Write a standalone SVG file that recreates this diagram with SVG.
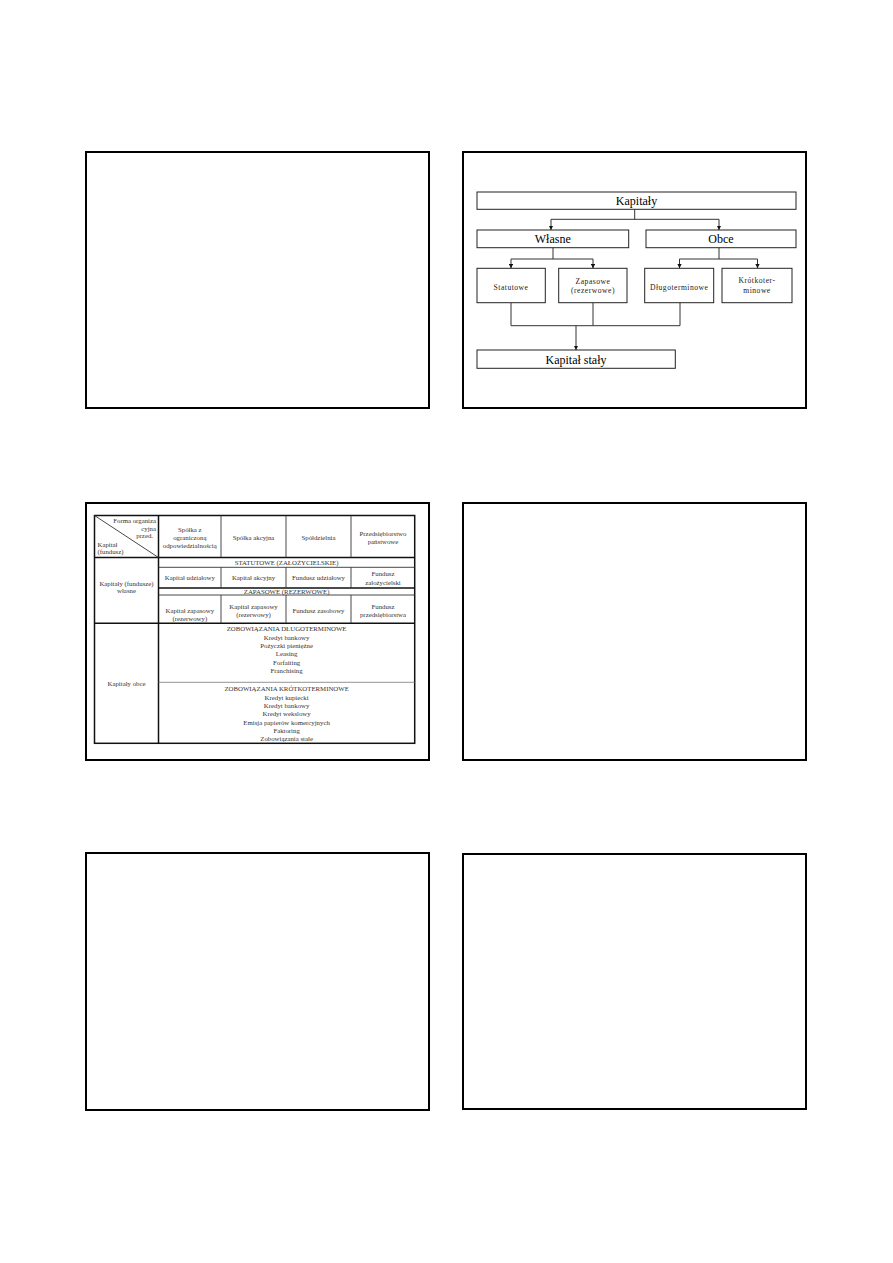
<svg xmlns="http://www.w3.org/2000/svg" width="893" height="1263" viewBox="0 0 893 1263">
<style>
.slide{fill:#fff;stroke:#000;stroke-width:2}
.box{fill:#fff;stroke:#222;stroke-width:1}
.ln{fill:none;stroke:#333;stroke-width:1}
.big{font-family:"Liberation Serif","Times New Roman",serif;font-size:12px;fill:#000;text-anchor:middle}
.sm{font-family:"Liberation Serif","Times New Roman",serif;font-size:7.6px;fill:#222;text-anchor:middle;letter-spacing:0.5px}
.t{font-family:"Liberation Serif","Times New Roman",serif;font-size:6.8px;fill:#333;text-anchor:middle}
.tk{fill:none;stroke:#111;stroke-width:1.5}
.tn{fill:none;stroke:#333;stroke-width:0.9}
.tg{fill:none;stroke:#777;stroke-width:0.8}
</style>
<defs>
<marker id="arr" viewBox="0 0 8 8" refX="8" refY="4" markerWidth="4.5" markerHeight="4.5" orient="auto" markerUnits="userSpaceOnUse">
<path d="M0,0 L8,4 L0,8 Z" fill="#111"/>
</marker>
</defs>
<rect width="893" height="1263" fill="#fff"/>
<g id="slides">
<rect id="slide1" class="slide" x="86" y="152" width="343" height="256"/>
<rect id="slide2" class="slide" x="463" y="152" width="343" height="256"/>
<rect id="slide3" class="slide" x="86" y="503" width="343" height="257"/>
<rect id="slide4" class="slide" x="463" y="503" width="343" height="257"/>
<rect id="slide5" class="slide" x="86" y="853" width="343" height="257"/>
<rect id="slide6" class="slide" x="463" y="854" width="343" height="255"/>
</g>
<g id="connectors">
<path class="ln" d="M634.7,209.3 V219.3 M551,219.3 H719"/>
<path class="ln" d="M551,219.3 V230" marker-end="url(#arr)"/>
<path class="ln" d="M719,219.3 V230" marker-end="url(#arr)"/>
<path class="ln" d="M553,247.7 V259 M511,259 H593 M719,247.7 V259 M679.5,259 H757.5"/>
<path class="ln" d="M511,259 V268.3" marker-end="url(#arr)"/>
<path class="ln" d="M593,259 V268.3" marker-end="url(#arr)"/>
<path class="ln" d="M679.5,259 V268.3" marker-end="url(#arr)"/>
<path class="ln" d="M757.5,259 V268.3" marker-end="url(#arr)"/>
<path class="ln" d="M511,302.7 V325.7 M593,302.7 V325.7 M680,302.7 V325.7 M511,325.7 H680"/>
<path class="ln" d="M576,325.7 V350" marker-end="url(#arr)"/>
</g>
<g id="kapitaly"><rect class="box" x="477" y="192" width="319" height="17.3"/><text class="big" x="636.5" y="205">Kapitały</text></g>
<g id="wlasne"><rect class="box" x="477" y="230" width="151.7" height="17.7"/><text class="big" x="552.8" y="243.2">Własne</text></g>
<g id="obce"><rect class="box" x="646" y="230" width="150" height="17.7"/><text class="big" x="721" y="243.2">Obce</text></g>
<g id="statutowe"><rect class="box" x="477" y="268.3" width="68.3" height="34.4"/><text class="sm" x="511" y="290">Statutowe</text></g>
<g id="zapasowe"><rect class="box" x="558.7" y="268.3" width="68.3" height="34.4"/><text class="sm" x="593" y="284.3">Zapasowe</text><text class="sm" x="593" y="292.8">(rezerwowe)</text></g>
<g id="dlugoterminowe"><rect class="box" x="644.7" y="268.3" width="69" height="34.4"/><text class="sm" x="679.2" y="290">Długoterminowe</text></g>
<g id="krotkoterminowe"><rect class="box" x="722" y="268.3" width="70" height="34.4"/><text class="sm" x="757" y="283.3">Krótkoter-</text><text class="sm" x="757" y="292.6">minowe</text></g>
<g id="kapital-staly"><rect class="box" x="477" y="350" width="198.3" height="18.3"/><text class="big" x="576" y="363.6">Kapitał stały</text></g>
<g id="table">
<rect class="tk" x="94.5" y="515.5" width="320.2" height="227.8"/>
<path class="tk" d="M158.5,515.5 V743.3 M94.5,557.5 H414.7 M158.5,588 H414.7 M94.5,623.3 H414.7"/>
<path class="tn" d="M158.5,567.3 H414.7 M158.5,595 H414.7"/>
<path class="tg" d="M158.5,682.3 H414.7"/>
<path class="tn" d="M221,515.5 V557.5 M286,515.5 V557.5 M351,515.5 V557.5 M221,567.3 V588 M286,567.3 V588 M351,567.3 V588 M221,595 V623.3 M286,595 V623.3 M351,595 V623.3"/>
<path class="tn" d="M94.5,515.5 L158.5,557.5"/>
<text class="t" style="text-anchor:end" x="156" y="523">Forma organiza</text>
<text class="t" style="text-anchor:end" x="156" y="530.5">cyjna</text>
<text class="t" style="text-anchor:end" x="153" y="537.5">przed.</text>
<text class="t" style="text-anchor:start" x="97.5" y="546.5">Kapitał</text>
<text class="t" style="text-anchor:start" x="97.5" y="554">(fundusz)</text>
<text class="t" x="189.8" y="532">Spółka z</text>
<text class="t" x="189.8" y="540">ograniczoną</text>
<text class="t" x="189.8" y="548">odpowiedzialnością</text>
<text class="t" x="253.5" y="540">Spółka akcyjna</text>
<text class="t" x="318.5" y="540">Spółdzielnia</text>
<text class="t" x="383" y="536.3">Przedsiębiorstwo</text>
<text class="t" x="383" y="544.3">państwowe</text>
<text class="t" x="286.6" y="565">STATUTOWE (ZAŁOŻYCIELSKIE)</text>
<text class="t" x="189.8" y="580">Kapitał udziałowy</text>
<text class="t" x="253.5" y="580">Kapitał akcyjny</text>
<text class="t" x="318.5" y="580">Fundusz udziałowy</text>
<text class="t" x="383" y="575.5">Fundusz</text>
<text class="t" x="383" y="584.5">założycielski</text>
<text class="t" x="286.6" y="593.8">ZAPASOWE (REZERWOWE)</text>
<text class="t" x="189.8" y="613">Kapitał zapasowy</text>
<text class="t" x="189.8" y="621.3">(rezerwowy)</text>
<text class="t" x="253.5" y="609">Kapitał zapasowy</text>
<text class="t" x="253.5" y="617.3">(rezerwowy)</text>
<text class="t" x="318.5" y="613">Fundusz zasobowy</text>
<text class="t" x="383" y="609">Fundusz</text>
<text class="t" x="383" y="617.3">przedsiębiorstwa</text>
<text class="t" x="126.5" y="585.5">Kapitały (fundusze)</text>
<text class="t" x="126.5" y="593">własne</text>
<text class="t" x="126.5" y="686">Kapitały obce</text>
<text class="t" x="286.6" y="631.3">ZOBOWIĄZANIA DŁUGOTERMINOWE</text>
<text class="t" x="286.6" y="639.6">Kredyt bankowy</text>
<text class="t" x="286.6" y="647.9">Pożyczki pieniężne</text>
<text class="t" x="286.6" y="656.2">Leasing</text>
<text class="t" x="286.6" y="664.5">Forfaiting</text>
<text class="t" x="286.6" y="672.8">Franchising</text>
<text class="t" x="286.6" y="691.3">ZOBOWIĄZANIA KRÓTKOTERMINOWE</text>
<text class="t" x="286.6" y="699.6">Kredyt kupiecki</text>
<text class="t" x="286.6" y="707.9">Kredyt bankowy</text>
<text class="t" x="286.6" y="716.2">Kredyt wekslowy</text>
<text class="t" x="286.6" y="724.5">Emisja papierów komercyjnych</text>
<text class="t" x="286.6" y="732.8">Faktoring</text>
<text class="t" x="286.6" y="741.1">Zobowiązania stałe</text>
</g>
</svg>
